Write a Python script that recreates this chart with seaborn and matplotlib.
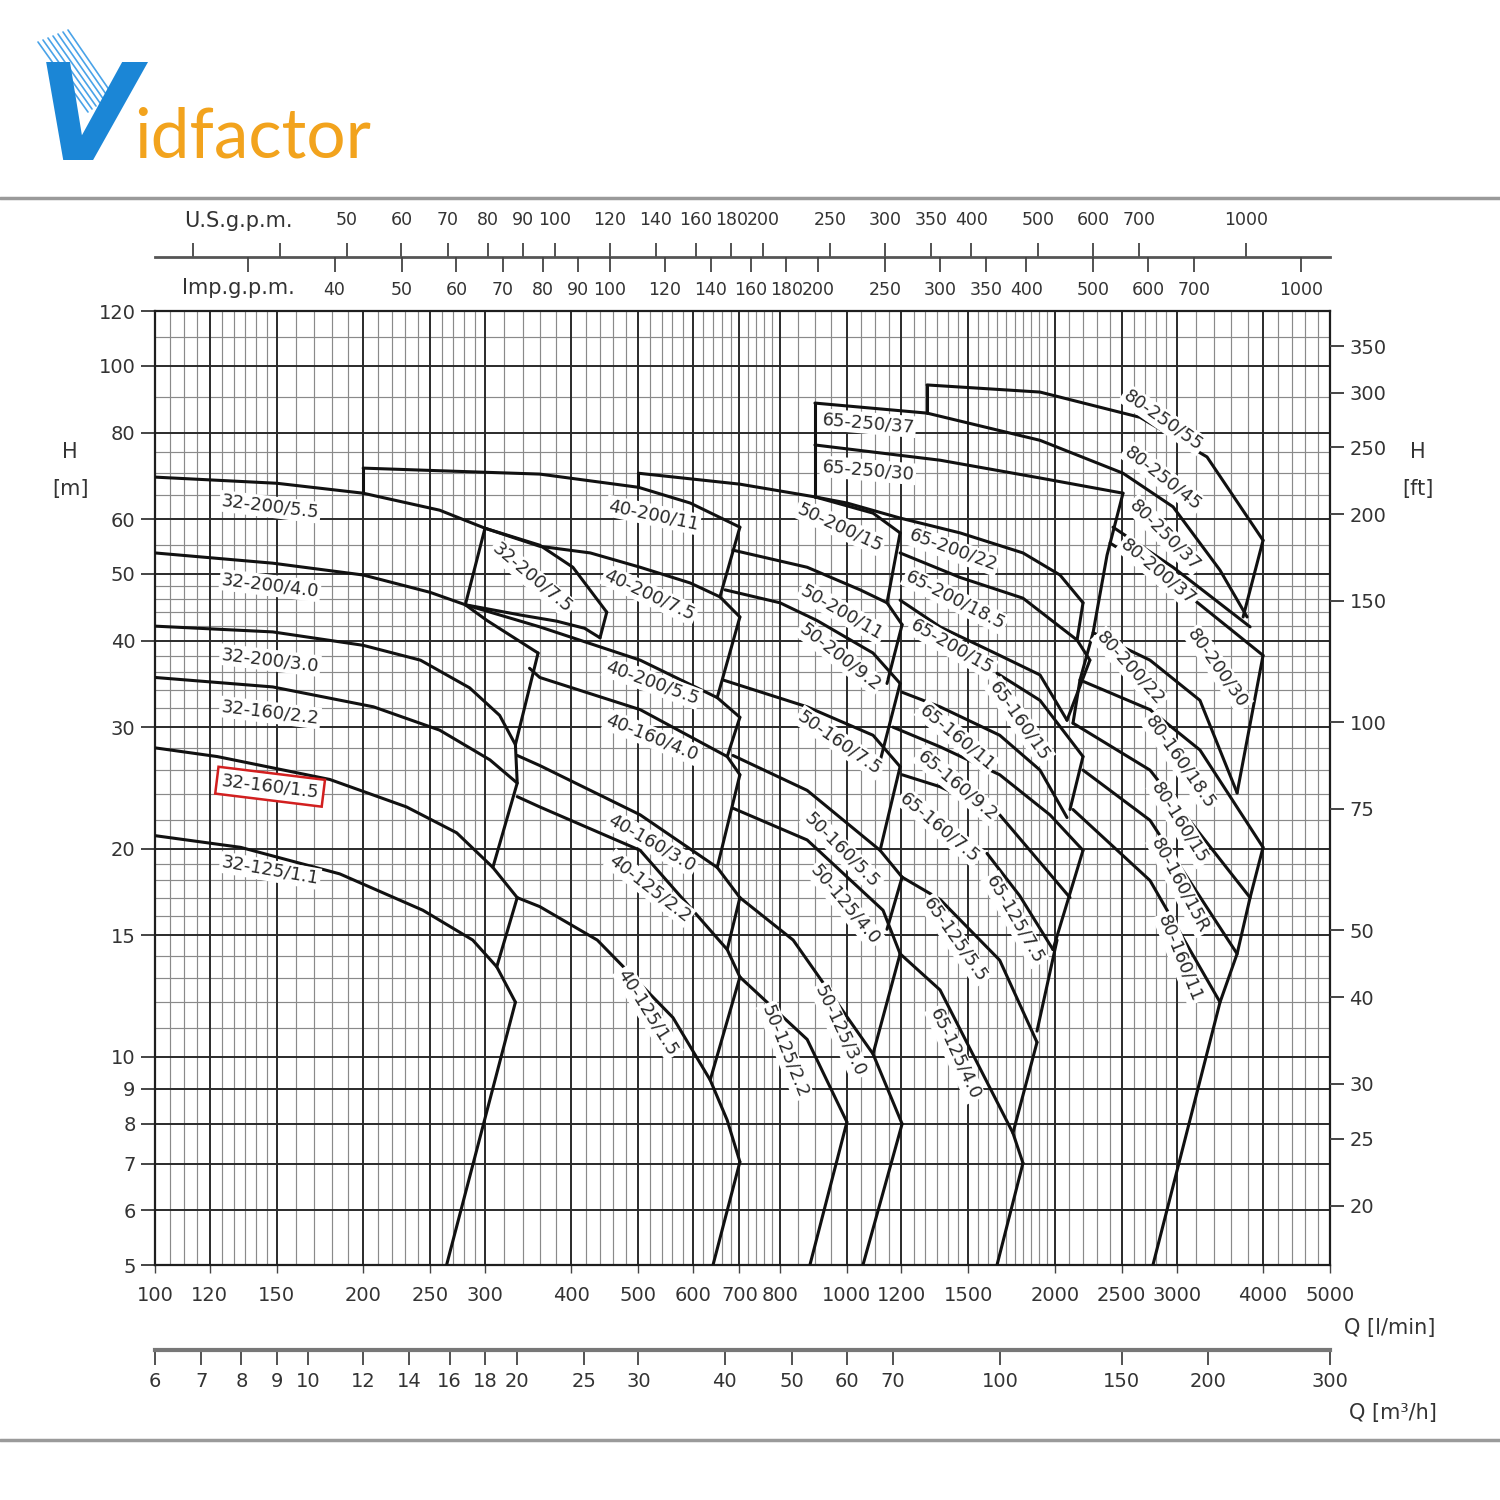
import matplotlib
matplotlib.use("Agg")
import matplotlib.pyplot as plt
from matplotlib.lines import Line2D
from matplotlib.ticker import NullLocator, FixedLocator
import numpy as np
import pandas as pd
import seaborn as sns

sns.set_theme(style="white")
plt.rcParams['font.family'] = ['DejaVu Sans']

# ---------------- axis scales ----------------
q_ticks = [100, 120, 150, 200, 250, 300, 400, 500, 600, 700, 800, 1000, 1200, 1500, 2000, 2500, 3000, 4000, 5000]
h_ticks = [5, 6, 7, 8, 9, 10, 15, 20, 30, 40, 50, 60, 80, 100, 120]
ft_ticks = [20, 25, 30, 40, 50, 75, 100, 150, 200, 250, 300, 350]
us_gpm_ticks = [30, 40, 50, 60, 70, 80, 90, 100, 120, 140, 160, 180, 200, 250, 300, 350, 400, 500, 600, 700, 1000]
us_gpm_labels = ['', '', '50', '60', '70', '80', '90', '100', '120', '140', '160', '180', '200', '250', '300', '350', '400', '500', '600', '700', '1000']
imp_gpm_ticks = [30, 40, 50, 60, 70, 80, 90, 100, 120, 140, 160, 180, 200, 250, 300, 350, 400, 500, 600, 700, 1000]
imp_gpm_labels = [''] + [str(v) for v in imp_gpm_ticks[1:]]
m3h_ticks = [6, 7, 8, 9, 10, 12, 14, 16, 18, 20, 25, 30, 40, 50, 60, 70, 100, 150, 200, 300]

# ---------------- pump curves (Q l/min, H m) ----------------
# block 32
c_32_200_top = [(100, 69.0), (150, 67.6), (200, 65.4), (258, 61.8), (300, 58.2), (360, 55.0), (402, 51.1), (450, 44.0)]
c_32_200_75_right = [(450, 44.0), (440, 40.4)]
c_32_200_75_left = [(300, 58.2), (281, 45.1)]
c_32_200_2 = [(100, 53.6), (148, 51.8), (200, 49.8), (250, 47.0), (281, 45.1), (302, 42.8), (358, 38.4)]
c_32_200_75_bottom = [(281, 45.1), (337, 43.6), (381, 42.7), (418, 41.7), (440, 40.4)]
c_32_200_3 = [(100, 42.0), (148, 41.2), (200, 39.4), (242, 37.5), (285, 34.2), (315, 31.2), (332, 28.3)]
c_32_160_1 = [(100, 35.4), (148, 34.3), (207, 32.1), (258, 29.7), (305, 26.9), (334, 24.9)]
c_32_160_2 = [(100, 28.0), (123, 27.2), (179, 25.2), (231, 23.0), (273, 21.1), (308, 18.8), (334, 17.0)]
c_32_125_1 = [(100, 20.9), (133, 20.1), (185, 18.4), (244, 16.3), (288, 14.76), (312, 13.5), (332, 12.0)]
z_32_a = [(358, 38.4), (332, 28.3), (334, 24.9), (308, 18.8)]
z_32_b = [(334, 17.0), (312, 13.5)]
z_32_c = [(332, 12.0), (264, 5.0)]

# block 40
c_40_200_top = [(200, 71.1), (267, 70.4), (360, 69.7), (500, 66.7), (594, 63.3), (701, 58.4)]
v_40 = [(200, 71.1), (200, 65.4)]
c_40_200_2 = [(300, 58.2), (360, 54.8), (426, 53.6), (503, 51.1), (594, 48.5), (656, 46.3), (701, 43.3)]
c_40_200_3 = [(281, 45.1), (360, 41.9), (503, 37.5), (650, 33.1), (701, 31.0)]
c_40_160_1 = [(348, 36.5), (360, 35.4), (503, 31.8), (672, 27.2), (701, 25.6)]
c_40_160_2 = [(334, 27.3), (360, 26.4), (503, 22.4), (650, 18.8), (701, 17.0)]
c_40_125_1 = [(334, 23.8), (360, 23.0), (503, 19.9), (672, 14.3), (701, 13.05)]
c_40_125_2 = [(334, 17.0), (360, 16.5), (436, 14.76), (561, 11.4), (635, 9.26), (672, 8.1), (701, 7.05)]
z_40_a = [(701, 58.4), (656, 46.3)]
z_40_b = [(701, 43.3), (650, 33.1)]
z_40_c = [(701, 31.0), (672, 27.2)]
z_40_d = [(701, 25.6), (650, 18.8)]
z_40_e = [(701, 17.0), (672, 14.3)]
z_40_f = [(701, 13.05), (635, 9.26)]
z_40_g = [(701, 7.05), (641, 5.0)]

# block 50
c_50_200_top = [(500, 69.9), (701, 67.4), (900, 64.6), (1092, 61.2), (1195, 57.3)]
v_50 = [(500, 69.9), (500, 66.7)]
c_50_200_2 = [(685, 54.1), (877, 51.1), (1046, 47.4), (1144, 45.4), (1203, 42.2)]
c_50_200_3 = [(667, 47.4), (801, 45.4), (906, 42.8), (1092, 38.4), (1195, 34.7)]
c_50_160_1 = [(663, 35.1), (877, 32.1), (1092, 29.2), (1195, 26.3)]
c_50_160_2 = [(685, 27.3), (877, 24.3), (1118, 19.9), (1203, 18.2)]
c_50_125_1 = [(685, 22.9), (877, 20.6), (1129, 16.3), (1195, 14.1)]
c_50_125_2 = [(701, 17.0), (837, 14.76), (1092, 10.1), (1203, 8.0)]
c_50_125_3 = [(701, 13.05), (877, 10.6), (1001, 8.05)]
z_50_a = [(1195, 57.3), (1144, 45.4)]
z_50_b = [(1203, 42.2), (1144, 34.7)]
z_50_c = [(1195, 34.7), (1118, 26.8)]
z_50_d = [(1195, 26.3), (1118, 19.9)]
z_50_e = [(1203, 18.2), (1144, 15.3)]
z_50_f = [(1195, 14.1), (1092, 10.1)]
z_50_g = [(1001, 8.05), (885, 5.0)]
z_50_h = [(1203, 8.0), (1056, 5.0)]

# block 65
v_65_250 = [(900, 88.3), (900, 64.6)]
c_65_250_top = [(900, 88.3), (1307, 85.4), (1904, 78.0), (2510, 69.9), (2965, 62.5), (3467, 50.6), (3794, 43.3)]
c_65_250_2 = [(900, 76.8), (1365, 73.0), (1904, 68.8), (2510, 65.4)]
c_65_200_1 = [(900, 64.6), (1001, 63.3), (1195, 60.2), (1459, 57.3), (1799, 53.6), (2035, 49.8), (2197, 45.4)]
c_65_200_2 = [(1195, 53.6), (1459, 49.4), (1799, 46.1), (2154, 40.1), (2248, 37.5)]
c_65_200_3 = [(1195, 45.8), (1365, 41.9), (1665, 38.1), (1904, 35.7), (2083, 30.7)]
c_65_160_1 = [(1650, 35.9), (1904, 32.8), (2197, 27.2)]
c_65_160_2 = [(1203, 33.7), (1365, 32.1), (1665, 29.2), (1904, 26.0), (2083, 22.2)]
c_65_160_3 = [(1167, 30.0), (1365, 28.1), (1665, 25.6), (1968, 22.4), (2197, 19.9)]
c_65_160_4 = [(1203, 25.6), (1365, 24.6), (1665, 22.4), (2104, 17.0)]
c_65_125_1 = [(1596, 19.7), (1780, 17.1), (1988, 14.3)]
c_65_125_2 = [(1203, 18.2), (1365, 16.9), (1665, 13.8), (1885, 10.5)]
c_65_125_3 = [(1195, 14.1), (1365, 12.5), (1740, 7.76), (1799, 7.02)]
z_65_a = [(2197, 45.4), (2154, 40.1)]
z_65_b = [(2248, 37.5), (2083, 30.7)]
z_65_c = [(2197, 27.2), (2104, 22.8)]
z_65_d = [(2197, 19.9), (1988, 14.3)]
z_65_e = [(2015, 14.76), (1885, 10.9)]
z_65_f = [(1885, 10.5), (1740, 7.76)]
z_65_g = [(1799, 7.02), (1650, 5.0)]

# block 80
v_80 = [(1307, 93.8), (1307, 85.4)]
c_80_250_top = [(1307, 93.8), (1904, 91.6), (2657, 84.2), (3320, 73.8), (4001, 55.9)]
c_80_250_3 = [(2428, 58.4), (2965, 51.1), (3832, 41.9)]
c_80_200_1 = [(2404, 55.4), (2965, 48.5), (4001, 38.1)]
c_80_200_2 = [(2272, 41.1), (2746, 37.5), (3243, 32.8), (3670, 24.1)]
c_80_160_1 = [(2175, 35.1), (2746, 31.8), (3243, 27.8), (4001, 20.1)]
c_80_160_2 = [(2125, 30.4), (2746, 26.0), (3832, 17.0)]
c_80_160_3 = [(2197, 26.0), (2746, 22.0), (3670, 14.1)]
c_80_160_4 = [(2125, 22.8), (2746, 18.0), (3467, 12.0)]
z_80_left = [(2510, 65.4), (2380, 53.2), (2272, 41.1), (2175, 35.1), (2125, 30.4)]
z_80_a = [(4001, 55.9), (3744, 43.3)]
z_80_b = [(4001, 38.1), (3670, 24.1)]
z_80_c = [(4001, 20.1), (3832, 17.0), (3670, 14.1), (3467, 12.0), (2773, 5.0)]

curves = [
    c_32_200_top, c_32_200_75_right, c_32_200_75_left, c_32_200_2, c_32_200_75_bottom, c_32_200_3,
    c_32_160_1, c_32_160_2, c_32_125_1, z_32_a, z_32_b, z_32_c,
    c_40_200_top, v_40, c_40_200_2, c_40_200_3, c_40_160_1, c_40_160_2, c_40_125_1, c_40_125_2,
    z_40_a, z_40_b, z_40_c, z_40_d, z_40_e, z_40_f, z_40_g,
    c_50_200_top, v_50, c_50_200_2, c_50_200_3, c_50_160_1, c_50_160_2, c_50_125_1, c_50_125_2, c_50_125_3,
    z_50_a, z_50_b, z_50_c, z_50_d, z_50_e, z_50_f, z_50_g, z_50_h,
    v_65_250, c_65_250_top, c_65_250_2, c_65_200_1, c_65_200_2, c_65_200_3, c_65_160_1, c_65_160_2,
    c_65_160_3, c_65_160_4, c_65_125_1, c_65_125_2, c_65_125_3,
    z_65_a, z_65_b, z_65_c, z_65_d, z_65_e, z_65_f, z_65_g,
    v_80, c_80_250_top, c_80_250_3, c_80_200_1, c_80_200_2, c_80_160_1, c_80_160_2, c_80_160_3, c_80_160_4,
    z_80_left, z_80_a, z_80_b, z_80_c,
]

# ---------------- curve labels ----------------
label_names = ['32-200/5.5', '32-200/4.0', '32-200/3.0', '32-160/2.2', '32-160/1.5', '32-125/1.1', '32-200/7.5',
               '40-200/11', '40-200/7.5', '40-200/5.5', '40-160/4.0', '40-160/3.0', '40-125/2.2', '40-125/1.5',
               '50-200/15', '50-200/11', '50-200/9.2', '50-160/7.5', '50-160/5.5', '50-125/4.0', '50-125/3.0', '50-125/2.2',
               '65-250/37', '65-250/30', '65-200/22', '65-200/18.5', '65-200/15', '65-160/15', '65-160/11', '65-160/9.2',
               '65-160/7.5', '65-125/7.5', '65-125/5.5', '65-125/4.0',
               '80-250/55', '80-250/45', '80-250/37', '80-200/37', '80-200/30', '80-200/22',
               '80-160/18.5', '80-160/15', '80-160/15R', '80-160/11']
label_q = [146.7, 146.7, 146.7, 146.7, 146.7, 146.7, 351,
           525, 519, 523, 523, 523, 519, 516,
           978, 985, 978, 978, 985, 995, 978, 815,
           1074, 1074, 1425, 1435, 1420, 1780, 1445, 1445, 1365, 1752, 1435, 1435,
           2868, 2868, 2887, 2821, 3443, 2570, 3035, 3035, 3035, 3035]
label_h = [62.5, 48.1, 37.5, 31.5, 24.6, 18.6, 49.3,
           60.8, 46.6, 34.8, 29.0, 20.4, 17.55, 11.6,
           58.4, 44.0, 37.9, 28.5, 19.9, 16.6, 10.9, 10.2,
           82.6, 70.6, 54.1, 45.8, 39.2, 30.6, 29.0, 24.7, 21.5, 15.8, 14.76, 10.1,
           83.5, 68.8, 56.9, 50.3, 36.5, 36.5, 26.7, 21.8, 17.7, 13.9]
label_rot = [-7, -7, -7, -7, -7, -10, -40,
             -12, -25, -20, -22, -30, -38, -58,
             -25, -30, -38, -35, -45, -50, -65, -68,
             -5, -5, -20, -27, -30, -55, -40, -40, -40, -60, -55, -65,
             -35, -38, -45, -40, -55, -48, -55, -58, -62, -68]
highlight_label = '32-160/1.5'

# ---------------- figure ----------------
fig = plt.figure(figsize=(15, 15), dpi=100)


def fx(px):
    return px / 1500.0


def fy(py):
    return 1 - py / 1500.0


ax = fig.add_axes([fx(155), fy(1265), (1330 - 155) / 1500, (1265 - 311) / 1500])
ax.set_xscale('log')
ax.set_yscale('log')
ax.set_xlim(100, 5000)
ax.set_ylim(5, 120)

# grid
q_minor = list(range(105, 150, 5)) + list(range(160, 300, 10)) + list(range(320, 800, 20)) + \
    list(range(850, 2000, 50)) + list(range(2100, 3000, 100)) + list(range(3200, 5000, 200))
h_minor = list(range(11, 20)) + list(range(22, 50, 2)) + [55, 65, 70, 75, 90, 110]
for q in q_minor:
    if q not in q_ticks:
        ax.axvline(q, color='#8a8a8a', lw=0.85, zorder=1)
for h in h_minor:
    if h not in h_ticks:
        ax.axhline(h, color='#8a8a8a', lw=0.85, zorder=1)
for q in q_ticks:
    ax.axvline(q, color='#2a2a2a', lw=1.4, zorder=1.5)
for h in h_ticks:
    ax.axhline(h, color='#2a2a2a', lw=1.4, zorder=1.5)

# curves via seaborn
rows = []
for i, pts in enumerate(curves):
    for j, (q, h) in enumerate(pts):
        rows.append({'curve': i, 'order': j, 'Q': q, 'H': h})
df = pd.DataFrame(rows)
sns.lineplot(data=df, x='Q', y='H', units='curve', estimator=None, sort=False,
             color='#111111', linewidth=2.2, ax=ax, legend=False, zorder=3)

for name, q, h, r in zip(label_names, label_q, label_h, label_rot):
    if name == highlight_label:
        bb = dict(boxstyle='square,pad=0.25', fc='white', ec='#d21f1f', lw=1.8)
    else:
        bb = dict(boxstyle='square,pad=0.1', fc='white', ec='none')
    ax.text(q, h, name, rotation=r, rotation_mode='anchor', ha='center', va='center',
            fontsize=13, color='#2a2a2a', bbox=bb, zorder=4)

ax.set_xlabel('')
ax.set_ylabel('')
ax.xaxis.set_major_locator(FixedLocator(q_ticks))
ax.xaxis.set_minor_locator(NullLocator())
ax.set_xticklabels([str(v) for v in q_ticks])
ax.yaxis.set_major_locator(FixedLocator(h_ticks))
ax.yaxis.set_minor_locator(NullLocator())
ax.set_yticklabels([str(v) for v in h_ticks])
ax.tick_params(axis='x', which='major', bottom=True, direction='out', length=6, width=1.0,
               color='#444444', labelsize=14, pad=9, labelcolor='#333333')
ax.tick_params(axis='y', which='major', left=True, direction='out', length=10, width=1.4,
               color='#444444', labelsize=14, pad=4, labelcolor='#333333')
for s in ax.spines.values():
    s.set_color('#1e1e1e')
    s.set_linewidth(1.6)

# right feet axis
ax2 = ax.twinx()
ax2.set_yscale('log')
ax2.set_ylim(5 / 0.3048, 120 / 0.3048)
ax2.yaxis.set_major_locator(FixedLocator(ft_ticks))
ax2.yaxis.set_minor_locator(NullLocator())
ax2.set_yticklabels([str(v) for v in ft_ticks])
ax2.tick_params(axis='y', which='major', right=True, direction='out', length=10, width=1.4,
                color='#444444', labelsize=14, pad=4, labelcolor='#333333')
ax2.grid(False)
for s in ax2.spines.values():
    s.set_visible(False)

# US gpm scale (above the line)
ax_us = fig.add_axes([fx(155), fy(257), 1175 / 1500, 1e-5])
ax_us.set_xscale('log')
ax_us.set_xlim(100 / 3.785, 5000 / 3.785)
ax_us.set_yticks([])
ax_us.patch.set_alpha(0)
for k, s in ax_us.spines.items():
    s.set_visible(k == 'bottom')
ax_us.spines['bottom'].set_color('#555555')
ax_us.spines['bottom'].set_linewidth(2.0)
ax_us.xaxis.tick_top()
ax_us.xaxis.set_major_locator(FixedLocator(us_gpm_ticks))
ax_us.xaxis.set_minor_locator(NullLocator())
ax_us.set_xticklabels(us_gpm_labels)
ax_us.tick_params(axis='x', which='major', top=True, bottom=False, direction='out', length=10,
                  width=1.3, color='#444444', labelsize=12.5, pad=10, labelcolor='#333333')

# Imp gpm scale (below the line)
ax_imp = fig.add_axes([fx(155), fy(257), 1175 / 1500, 1e-5])
ax_imp.set_xscale('log')
ax_imp.set_xlim(100 / 4.546, 5000 / 4.546)
ax_imp.set_yticks([])
ax_imp.patch.set_alpha(0)
for s in ax_imp.spines.values():
    s.set_visible(False)
ax_imp.xaxis.set_major_locator(FixedLocator(imp_gpm_ticks))
ax_imp.xaxis.set_minor_locator(NullLocator())
ax_imp.set_xticklabels(imp_gpm_labels)
ax_imp.tick_params(axis='x', which='major', bottom=True, direction='out', length=11,
                   width=1.3, color='#444444', labelsize=12.5, pad=6, labelcolor='#333333')

# m3/h scale
ax_m3 = fig.add_axes([fx(155), fy(1350), 1175 / 1500, 1e-5])
ax_m3.set_xscale('log')
ax_m3.set_xlim(6, 300)
ax_m3.set_yticks([])
ax_m3.patch.set_alpha(0)
for k, s in ax_m3.spines.items():
    s.set_visible(k == 'bottom')
ax_m3.spines['bottom'].set_color('#777777')
ax_m3.spines['bottom'].set_linewidth(3.0)
ax_m3.xaxis.set_major_locator(FixedLocator(m3h_ticks))
ax_m3.xaxis.set_minor_locator(NullLocator())
ax_m3.set_xticklabels([str(v) for v in m3h_ticks])
ax_m3.tick_params(axis='x', which='major', bottom=True, direction='out', length=11,
                  width=1.3, color='#444444', labelsize=14, pad=5, labelcolor='#333333')

# axis titles
tk = dict(fontsize=15, color='#333333', ha='center', va='center')
fig.text(fx(238), fy(221), 'U.S.g.p.m.', **tk)
fig.text(fx(238), fy(288), 'Imp.g.p.m.', **tk)
fig.text(fx(70), fy(452), 'H', **tk)
fig.text(fx(70), fy(489), '[m]', **tk)
fig.text(fx(1418), fy(452), 'H', **tk)
fig.text(fx(1418), fy(489), '[ft]', **tk)
fig.text(fx(1390), fy(1328), 'Q [l/min]', **tk)
fig.text(fx(1393), fy(1413), 'Q [m³/h]', **tk)

# separators
for yy in (198, 1440):
    fig.add_artist(Line2D([0, 1], [fy(yy), fy(yy)], color='#9a9a9a', lw=2.5))

# logo
for k in range(7):
    fig.add_artist(Line2D([fx(38 + 5 * k), fx(88 + 4 * k)], [fy(42 - 2 * k), fy(112 - 3 * k)],
                          color='#4aa3e8', lw=1.2))
fig.text(fx(36), fy(160), 'V', fontsize=96, color='#1b86d6', fontweight='bold',
         fontstyle='italic', ha='left', va='baseline')
fig.text(fx(134), fy(157), 'idfactor', fontsize=50, color='#f2a31d', fontweight='normal',
         ha='left', va='baseline', family=['Lato', 'DejaVu Sans'])

fig.savefig('out.png', dpi=100, facecolor='white')
